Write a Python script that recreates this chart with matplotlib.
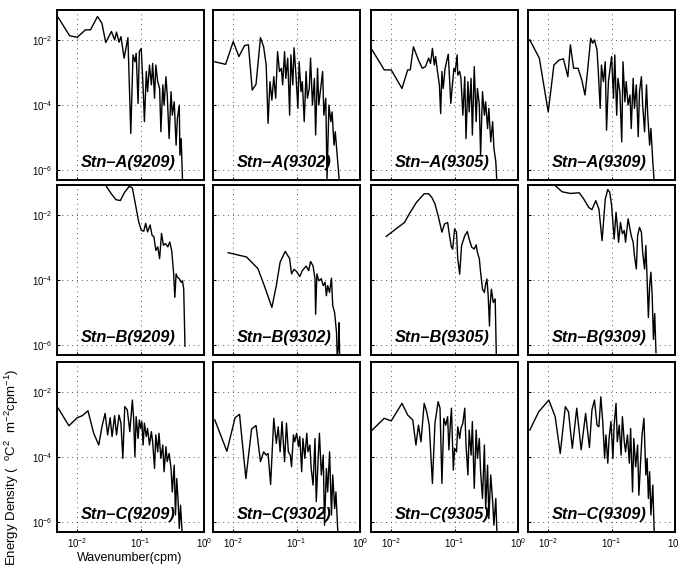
import numpy as np
import matplotlib
matplotlib.use("Agg")
import matplotlib.pyplot as plt

plt.rcParams['font.family'] = ['Liberation Sans', 'DejaVu Sans']
plt.rcParams['mathtext.default'] = 'regular'

# spectra, stored as log10(wavenumber) / log10(energy)
A9209_k = [-2.30, -2.12, -2.00, -1.87, -1.79, -1.68, -1.61, -1.55, -1.46, -1.41, -1.38, -1.34, -1.31,
           -1.26, -1.20, -1.155, -1.12, -1.09, -1.07, -1.04, -1.02, -0.99, -0.96, -0.94, -0.91, -0.89,
           -0.86, -0.83, -0.81, -0.78, -0.76, -0.73, -0.70, -0.68, -0.65, -0.63, -0.60, -0.58, -0.55,
           -0.52, -0.50, -0.47, -0.44, -0.42, -0.39, -0.38, -0.36, -0.34, -0.32]
A9209_E = [-1.31, -1.87, -1.92, -1.69, -1.69, -1.28, -1.49, -2.08, -1.74, -2.00, -1.76, -2.07, -1.90,
           -2.56, -1.93, -4.87, -2.46, -2.67, -2.41, -3.95, -2.36, -2.26, -3.49, -4.51, -2.97, -3.59,
           -2.77, -3.38, -2.72, -3.79, -2.77, -3.28, -3.49, -4.82, -3.38, -4.00, -3.13, -3.69, -5.03,
           -3.59, -4.31, -3.90, -5.23, -4.41, -4.00, -5.54, -5.03, -6.26, -6.60]

A9302_k = [-2.29, -2.12, -2.00, -1.91, -1.82, -1.76, -1.70, -1.64, -1.57, -1.52, -1.48, -1.45, -1.42,
           -1.39, -1.36, -1.33, -1.30, -1.27, -1.24, -1.22, -1.19, -1.17, -1.14, -1.11, -1.09, -1.06,
           -1.04, -1.01, -0.98, -0.96, -0.93, -0.91, -0.88, -0.85, -0.83, -0.80, -0.78, -0.75, -0.72,
           -0.70, -0.67, -0.65, -0.62, -0.59, -0.57, -0.54, -0.52, -0.49, -0.46, -0.44, -0.41, -0.39,
           -0.36, -0.33, -0.32]
A9302_E = [-2.67, -2.75, -2.05, -2.51, -2.17, -2.15, -3.54, -3.36, -1.93, -2.21, -2.77, -4.56, -3.28,
           -3.85, -3.13, -3.79, -2.36, -2.97, -2.87, -3.38, -2.36, -3.18, -2.56, -4.31, -2.46, -3.38,
           -2.24, -3.08, -4.10, -2.67, -3.59, -3.28, -4.51, -2.97, -3.79, -3.49, -2.56, -4.00, -3.18,
           -4.92, -2.87, -4.00, -3.49, -2.97, -4.31, -3.79, -6.26, -4.00, -4.51, -4.21, -5.23, -4.82,
           -5.54, -6.26, -6.60]

A9305_k = [-2.30, -2.11, -2.00, -1.83, -1.74, -1.70, -1.65, -1.57, -1.51, -1.46, -1.41, -1.38, -1.35,
           -1.32, -1.30, -1.27, -1.24, -1.22, -1.20, -1.18, -1.15, -1.10, -1.08, -1.06, -1.04, -1.01,
           -0.99, -0.96, -0.95, -0.92, -0.90, -0.87, -0.84, -0.82, -0.79, -0.77, -0.74, -0.72, -0.69,
           -0.66, -0.64, -0.61, -0.59, -0.56, -0.53, -0.51, -0.48, -0.46, -0.43, -0.40, -0.38, -0.35,
           -0.33]
A9305_E = [-2.31, -2.92, -2.92, -3.49, -2.92, -2.92, -2.21, -2.62, -2.87, -2.82, -2.56, -2.72, -2.26,
           -2.77, -2.51, -2.97, -3.38, -4.26, -2.97, -3.49, -2.87, -2.44, -3.18, -3.95, -3.49, -2.87,
           -2.97, -2.46, -3.08, -2.97, -3.18, -4.31, -3.13, -5.03, -3.28, -4.21, -3.18, -4.92, -2.82,
           -4.51, -3.49, -4.00, -5.54, -3.59, -4.31, -3.90, -4.72, -4.10, -5.13, -4.51, -5.33, -5.74,
           -6.50]

A9309_k = [-2.29, -2.14, -2.00, -1.91, -1.83, -1.76, -1.69, -1.65, -1.60, -1.53, -1.47, -1.42, -1.38,
           -1.33, -1.30, -1.27, -1.23, -1.21, -1.18, -1.16, -1.13, -1.10, -1.08, -1.05, -1.03, -1.00,
           -0.97, -0.95, -0.92, -0.90, -0.87, -0.84, -0.82, -0.79, -0.77, -0.74, -0.71, -0.69, -0.66,
           -0.64, -0.61, -0.58, -0.56, -0.53, -0.51, -0.48, -0.45, -0.43, -0.40, -0.38, -0.35, -0.32]
A9309_E = [-2.00, -2.56, -4.21, -2.77, -2.62, -2.58, -3.13, -2.15, -2.87, -2.87, -3.23, -3.69, -2.97,
           -1.95, -2.10, -2.00, -2.31, -2.97, -4.10, -2.77, -3.28, -2.67, -4.77, -3.28, -2.97, -2.51,
           -3.79, -2.46, -4.31, -3.18, -3.59, -5.13, -2.67, -3.90, -3.28, -4.00, -3.69, -4.72, -3.18,
           -4.10, -3.38, -4.97, -3.59, -3.13, -4.00, -4.82, -3.38, -4.31, -5.23, -4.72, -5.74, -6.60]

B9209_k = [-2.30, -1.90, -1.625, -1.55, -1.47, -1.39, -1.32, -1.26, -1.18, -1.13, -1.08, -1.03, -0.99,
           -0.95, -0.92, -0.89, -0.85, -0.82, -0.79, -0.76, -0.73, -0.70, -0.67, -0.64, -0.61, -0.57,
           -0.54, -0.51, -0.48, -0.46, -0.44, -0.42, -0.39, -0.36, -0.34, -0.32, -0.30]
B9209_E = [-0.85, -0.95, -1.02, -1.09, -1.33, -1.53, -1.56, -1.33, -1.12, -1.17, -1.69, -2.21, -2.47,
           -2.50, -2.26, -2.52, -2.31, -2.62, -2.67, -3.09, -2.98, -3.34, -2.57, -2.93, -2.88, -2.98,
           -2.83, -3.09, -3.76, -4.53, -3.81, -3.91, -3.96, -4.07, -4.02, -4.27, -6.03]

B9302_k = [-2.08, -1.79, -1.61, -1.51, -1.39, -1.32, -1.26, -1.18, -1.11, -1.08, -1.04, -1.00, -0.95,
           -0.91, -0.85, -0.81, -0.78, -0.74, -0.71, -0.70, -0.68, -0.65, -0.61, -0.58, -0.55, -0.53,
           -0.51, -0.48, -0.45, -0.43, -0.40, -0.37, -0.36, -0.34, -0.33, -0.32]
B9302_E = [-3.16, -3.29, -3.65, -4.17, -4.84, -4.17, -3.45, -3.12, -3.34, -3.81, -3.67, -3.74, -3.89,
           -3.71, -3.57, -3.71, -3.43, -3.57, -3.96, -5.05, -3.81, -4.02, -3.96, -4.17, -4.07, -4.48,
           -4.17, -4.38, -3.94, -4.79, -5.00, -5.62, -6.34, -6.03, -5.31, -6.50]

B9305_k = [-2.08, -1.79, -1.70, -1.60, -1.48, -1.41, -1.36, -1.31, -1.26, -1.20, -1.16, -1.11, -1.08,
           -1.05, -1.03, -1.00, -0.97, -0.95, -0.92, -0.89, -0.84, -0.80, -0.77, -0.73, -0.69, -0.66,
           -0.64, -0.61, -0.59, -0.56, -0.53, -0.51, -0.49, -0.47, -0.45, -0.44, -0.42, -0.39, -0.36,
           -0.34]
B9305_E = [-2.66, -2.23, -1.92, -1.61, -1.35, -1.35, -1.46, -1.66, -2.02, -2.53, -2.28, -2.23, -2.64,
           -2.99, -3.05, -2.43, -2.53, -3.35, -3.82, -2.94, -2.64, -2.51, -2.74, -2.99, -3.05, -2.92,
           -3.15, -3.35, -3.76, -4.28, -4.38, -4.12, -3.97, -4.48, -5.41, -4.79, -4.28, -4.69, -4.58,
           -6.50]

B9309_k = [-2.30, -2.05, -1.89, -1.78, -1.65, -1.51, -1.44, -1.36, -1.31, -1.25, -1.20, -1.15, -1.10,
           -1.06, -1.03, -1.00, -0.96, -0.93, -0.91, -0.89, -0.86, -0.83, -0.80, -0.78, -0.74, -0.71,
           -0.69, -0.66, -0.64, -0.61, -0.59, -0.56, -0.53, -0.51, -0.48, -0.46, -0.44, -0.42, -0.40,
           -0.38, -0.36, -0.34, -0.32, -0.30]
B9309_E = [-0.85, -0.95, -1.10, -1.29, -1.34, -1.32, -1.51, -1.77, -1.84, -1.56, -1.82, -2.79, -1.51,
           -1.22, -1.30, -1.71, -2.74, -1.92, -2.33, -2.84, -2.23, -2.58, -2.48, -2.84, -2.12, -2.43,
           -2.64, -2.84, -3.25, -3.66, -2.64, -2.38, -2.53, -3.15, -3.66, -2.94, -3.97, -5.15, -4.17,
           -3.76, -4.48, -5.82, -5.03, -6.23]

C9209_k = [-2.30, -2.13, -2.00, -1.92, -1.83, -1.74, -1.66, -1.61, -1.56, -1.52, -1.48, -1.45, -1.41,
           -1.38, -1.34, -1.31, -1.28, -1.25, -1.21, -1.17, -1.13, -1.11, -1.09, -1.07, -1.04, -1.02,
           -1.00, -0.98, -0.96, -0.94, -0.91, -0.89, -0.86, -0.83, -0.81, -0.78, -0.76, -0.73, -0.71,
           -0.68, -0.65, -0.63, -0.60, -0.58, -0.55, -0.52, -0.50, -0.47, -0.45, -0.43, -0.41, -0.39,
           -0.37, -0.34]
C9209_E = [-2.50, -3.04, -2.79, -2.73, -2.58, -3.27, -3.63, -3.07, -2.66, -3.32, -2.79, -3.37, -2.73,
           -3.32, -2.71, -2.96, -4.04, -2.45, -2.55, -3.22, -2.25, -2.81, -3.99, -2.76, -3.43, -2.86,
           -3.12, -2.91, -3.63, -2.96, -3.37, -3.12, -3.63, -3.22, -3.53, -4.35, -3.32, -3.84, -3.27,
           -4.04, -3.63, -4.45, -3.68, -4.14, -3.89, -4.35, -5.07, -4.25, -5.78, -4.66, -5.27, -6.19,
           -5.48, -6.50]

C9302_k = [-2.29, -2.10, -1.97, -1.90, -1.80, -1.71, -1.64, -1.57, -1.52, -1.48, -1.45, -1.41, -1.36,
           -1.32, -1.29, -1.26, -1.23, -1.19, -1.16, -1.13, -1.10, -1.08, -1.05, -1.03, -1.00, -0.97,
           -0.95, -0.92, -0.90, -0.87, -0.84, -0.82, -0.79, -0.77, -0.74, -0.71, -0.69, -0.66, -0.64,
           -0.61, -0.58, -0.56, -0.53, -0.51, -0.48, -0.45, -0.43, -0.40, -0.38, -0.35, -0.33]
C9302_E = [-2.86, -3.82, -2.79, -2.69, -4.66, -3.14, -3.03, -4.14, -3.84, -3.94, -3.89, -4.84, -2.81,
           -3.58, -3.07, -3.84, -2.91, -4.14, -2.96, -3.84, -3.94, -4.30, -3.32, -3.53, -3.27, -3.68,
           -3.37, -4.45, -3.43, -4.04, -3.27, -3.84, -3.63, -4.35, -4.86, -3.43, -5.37, -4.04, -3.27,
           -4.55, -3.94, -6.09, -4.35, -5.07, -3.84, -5.78, -4.55, -5.58, -5.07, -6.30, -6.60]

C9305_k = [-2.30, -2.11, -2.00, -1.83, -1.74, -1.66, -1.61, -1.57, -1.53, -1.48, -1.44, -1.40, -1.35,
           -1.31, -1.26, -1.23, -1.20, -1.17, -1.14, -1.11, -1.09, -1.07, -1.05, -1.02, -1.00, -0.97,
           -0.95, -0.92, -0.90, -0.87, -0.84, -0.82, -0.79, -0.77, -0.74, -0.72, -0.69, -0.66, -0.64,
           -0.61, -0.59, -0.56, -0.53, -0.51, -0.48, -0.46, -0.43, -0.40, -0.38, -0.35, -0.33]
C9305_E = [-3.17, -2.81, -2.89, -2.35, -2.71, -2.86, -3.63, -3.02, -3.53, -2.35, -2.61, -3.02, -4.81,
           -2.96, -2.30, -2.50, -4.81, -2.81, -3.02, -2.76, -3.78, -3.07, -2.50, -4.40, -3.73, -3.84,
           -3.07, -3.43, -3.12, -2.96, -2.50, -3.63, -4.55, -3.17, -3.94, -2.91, -4.96, -3.17, -4.04,
           -3.43, -4.45, -5.27, -3.63, -5.58, -4.25, -5.89, -4.55, -5.37, -6.09, -5.27, -6.50]

C9309_k = [-2.29, -2.15, -1.99, -1.89, -1.81, -1.73, -1.68, -1.62, -1.55, -1.48, -1.41, -1.35, -1.31,
           -1.27, -1.23, -1.20, -1.17, -1.14, -1.11, -1.09, -1.06, -1.04, -1.01, -0.98, -0.96, -0.93,
           -0.91, -0.88, -0.85, -0.83, -0.80, -0.78, -0.75, -0.72, -0.70, -0.67, -0.65, -0.62, -0.59,
           -0.57, -0.54, -0.52, -0.49, -0.46, -0.44, -0.42, -0.40, -0.38, -0.35, -0.33, -0.32]
C9309_E = [-3.17, -2.61, -2.25, -2.76, -3.89, -2.45, -2.61, -3.73, -2.50, -3.78, -2.66, -3.71, -2.55,
           -2.25, -3.02, -3.07, -2.15, -2.91, -4.04, -3.32, -4.19, -3.43, -2.91, -4.04, -3.02, -2.35,
           -3.53, -3.02, -3.94, -2.76, -3.53, -3.84, -3.32, -4.19, -3.12, -5.07, -3.43, -4.30, -3.63,
           -5.17, -4.04, -3.32, -2.81, -4.55, -4.04, -5.27, -4.45, -5.78, -4.86, -6.19, -6.60]

stations = ['A', 'B', 'C']
cruises = ['9209', '9302', '9305', '9309']
series = [
    [(A9209_k, A9209_E), (A9302_k, A9302_E), (A9305_k, A9305_E), (A9309_k, A9309_E)],
    [(B9209_k, B9209_E), (B9302_k, B9302_E), (B9305_k, B9305_E), (B9309_k, B9309_E)],
    [(C9209_k, C9209_E), (C9302_k, C9302_E), (C9305_k, C9305_E), (C9309_k, C9309_E)],
]

W, H = 678, 569
fig = plt.figure(figsize=(W / 100, H / 100), dpi=100)

col_left = [57, 213, 371, 528]
row_top = [10, 185, 362]
pw, ph = 147, 170

for r in range(3):
    for c in range(4):
        ax = fig.add_axes([col_left[c] / W, 1 - (row_top[r] + ph) / H, pw / W, ph / H])
        k, e = series[r][c]
        ax.plot(10 ** np.array(k), 10 ** np.array(e), color='black', lw=1.0)
        ax.set_xscale('log')
        ax.set_yscale('log')
        ax.set_xlim(0.0048, 1.0)
        ax.set_ylim(5e-7, 0.083)
        ax.set_xticks([1e-2, 1e-1, 1e0])
        ax.set_yticks([1e-6, 1e-4, 1e-2])
        ax.minorticks_off()
        ax.grid(True, ls=(0, (1, 4)), color='#555555', lw=0.7)
        ax.tick_params(direction='in', length=2, labelsize=7, pad=3)
        for s in ax.spines.values():
            s.set_linewidth(1.4)
        if c != 0:
            ax.set_yticklabels([])
        if r != 2:
            ax.set_xticklabels([])
        ax.text(0.165, 0.06, 'Stn\u2013%s(%s)' % (stations[r], cruises[c]), transform=ax.transAxes,
                fontsize=11.8, fontweight='bold', fontstyle='italic', ha='left', va='bottom')

fig.text(12 / W, 1 - 566 / H, r'Energy Density (  $^{o}$C$^{2}$  m$^{-2}$cpm$^{-1}$)',
         rotation=90, ha='center', va='bottom', fontsize=9.5)
fig.text(130 / W, 1 - 558 / H, 'Wavenumber(cpm)', ha='center', va='center', fontsize=9)

fig.savefig('out.png', dpi=100)
